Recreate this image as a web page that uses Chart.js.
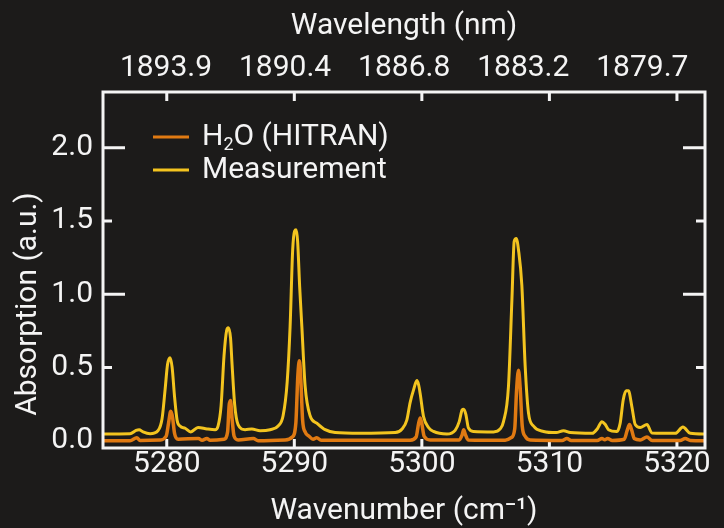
<!DOCTYPE html>
<html>
<head>
<meta charset="utf-8">
<script src="https://cdn.jsdelivr.net/npm/chart.js@4.4.0/dist/chart.umd.min.js"></script>
<style>
  html, body { margin: 0; padding: 0; background: #1c1b1a; }
  #wrap { width: 724px; height: 528px; position: relative; }
</style>
</head>
<body>
<div id="wrap"><canvas id="spectrum"></canvas></div>
<script>
// ---- data ----
const wavenumberTicks = [5280, 5290, 5300, 5310, 5320];
const absorptionTicks = [0.0, 0.5, 1.0, 1.5, 2.0];

// Measurement (yellow)
const measWavenumber = [
  5274.93, 5277.12, 5277.59, 5277.83, 5278.14, 5278.69, 5279.32, 5279.63, 5279.87, 5280.06,
  5280.26, 5280.42, 5280.61, 5280.81, 5281.04, 5281.44, 5281.88, 5282.45, 5283.16, 5283.79,
  5284.02, 5284.26, 5284.49, 5284.69, 5284.83, 5285.00, 5285.12, 5285.32, 5285.59, 5286.14,
  5286.67, 5287.32, 5288.10, 5288.73, 5289.12, 5289.44, 5289.67, 5289.87, 5290.02, 5290.14,
  5290.26, 5290.42, 5290.59, 5290.85, 5291.24, 5291.76, 5292.42, 5293.20, 5295.16, 5297.91,
  5298.45, 5298.82, 5299.08, 5299.36, 5299.61, 5299.75, 5299.87, 5300.13, 5300.52, 5300.91,
  5301.96, 5302.61, 5302.93, 5303.16, 5303.28, 5303.45, 5303.65, 5304.05, 5305.62, 5306.14,
  5306.40, 5306.79, 5307.06, 5307.24, 5307.40, 5307.58, 5307.84, 5308.10, 5308.36, 5308.75,
  5309.54, 5310.53, 5311.11, 5311.63, 5313.36, 5313.75, 5314.12, 5314.38, 5314.64, 5315.29,
  5315.55, 5315.79, 5316.02, 5316.20, 5316.47, 5316.73, 5317.12, 5317.65, 5318.04, 5319.87,
  5320.47, 5321.05, 5322.23
];
const measAbsorption = [
  0.045, 0.047, 0.070, 0.075, 0.060, 0.048, 0.070, 0.150, 0.350, 0.520,
  0.566, 0.500, 0.300, 0.140, 0.100, 0.085, 0.060, 0.090, 0.080, 0.075,
  0.100, 0.240, 0.580, 0.750, 0.770, 0.700, 0.520, 0.250, 0.110, 0.075,
  0.080, 0.068, 0.075, 0.100, 0.170, 0.400, 0.780, 1.300, 1.430, 1.440,
  1.360, 1.050, 0.780, 0.370, 0.170, 0.120, 0.075, 0.055, 0.050, 0.055,
  0.080, 0.140, 0.260, 0.350, 0.410, 0.380, 0.320, 0.165, 0.090, 0.063,
  0.045, 0.070, 0.130, 0.210, 0.215, 0.180, 0.087, 0.063, 0.060, 0.080,
  0.130, 0.370, 0.960, 1.360, 1.380, 1.300, 1.060, 0.510, 0.190, 0.100,
  0.063, 0.055, 0.068, 0.055, 0.050, 0.080, 0.130, 0.110, 0.075, 0.063,
  0.120, 0.280, 0.340, 0.340, 0.230, 0.110, 0.090, 0.110, 0.052, 0.050,
  0.093, 0.050, 0.045
];

// H2O (HITRAN) (orange)
const hitranWavenumber = [
  5274.93, 5277.12, 5277.65, 5277.91, 5279.48, 5279.95, 5280.14, 5280.31, 5280.45, 5280.61,
  5280.89, 5282.48, 5282.77, 5283.14, 5283.40, 5284.49, 5284.77, 5284.89, 5285.00, 5285.12,
  5285.28, 5285.59, 5286.79, 5287.16, 5289.28, 5289.84, 5290.12, 5290.28, 5290.40, 5290.51,
  5290.65, 5290.85, 5291.16, 5291.47, 5291.76, 5292.10, 5299.08, 5299.55, 5299.75, 5299.87,
  5299.99, 5300.18, 5300.65, 5302.93, 5303.16, 5303.28, 5303.40, 5303.63, 5306.53, 5307.00,
  5307.28, 5307.43, 5307.58, 5307.71, 5307.87, 5308.10, 5308.49, 5311.00, 5311.37, 5311.71,
  5313.75, 5314.12, 5314.34, 5314.56, 5314.93, 5315.87, 5316.10, 5316.28, 5316.46, 5316.65,
  5317.12, 5317.65, 5318.06, 5320.25, 5320.65, 5321.05, 5322.23
];
const hitranAbsorption = [
  0.000, 0.000, 0.020, 0.002, 0.005, 0.030, 0.120, 0.200, 0.160, 0.050,
  0.010, 0.015, 0.003, 0.015, 0.003, 0.010, 0.060, 0.240, 0.275, 0.150,
  0.030, 0.005, 0.015, 0.000, 0.005, 0.025, 0.120, 0.450, 0.545, 0.420,
  0.140, 0.060, 0.030, 0.010, 0.020, 0.003, 0.003, 0.025, 0.120, 0.155,
  0.120, 0.030, 0.005, 0.005, 0.040, 0.075, 0.045, 0.005, 0.003, 0.020,
  0.080, 0.350, 0.480, 0.360, 0.100, 0.030, 0.005, 0.002, 0.015, 0.002,
  0.002, 0.015, 0.006, 0.015, 0.002, 0.010, 0.070, 0.110, 0.070, 0.015,
  0.005, 0.025, 0.002, 0.002, 0.015, 0.002, 0.000
];

const seriesNames = ['H\u2082O (HITRAN)', 'Measurement'];
const seriesColors = ['#e07a12', '#f3c41f'];

// ---- style ----
const FG = '#f4f4f4';
const FONT = 'Roboto, "Noto Sans", sans-serif';
const FONT_SIZE = 30;

function toPoints(xs, ys) {
  return xs.map((x, i) => ({ x: x, y: ys[i] }));
}

// inward ticks on all four sides + frame
const frameTicks = {
  id: 'frameTicks',
  beforeDatasetsDraw(chart) {
    const { ctx, chartArea: a, scales } = chart;
    ctx.save();
    ctx.strokeStyle = FG;
    ctx.lineWidth = 3;
    ctx.beginPath();
    wavenumberTicks.forEach(v => {
      const x = scales.x.getPixelForValue(v);
      ctx.moveTo(x, a.bottom); ctx.lineTo(x, a.bottom - 9);
      ctx.moveTo(x, a.top); ctx.lineTo(x, a.top + 9);
    });
    absorptionTicks.forEach(v => {
      if (v === 0) return;
      const y = scales.y.getPixelForValue(v);
      const len = Number.isInteger(v) ? 22 : 9;
      ctx.moveTo(a.left, y); ctx.lineTo(a.left + len, y);
      ctx.moveTo(a.right, y); ctx.lineTo(a.right - len, y);
    });
    ctx.stroke();
    ctx.restore();
  },
  afterDatasetsDraw(chart) {
    const { ctx, chartArea: a } = chart;
    ctx.save();
    ctx.strokeStyle = FG;
    ctx.lineWidth = 3;
    ctx.strokeRect(a.left, a.top, a.right - a.left, a.bottom - a.top);
    ctx.restore();
  }
};

// legend inside the plot + rotated y title
const labelsPlugin = {
  id: 'labelsPlugin',
  afterDraw(chart) {
    const { ctx, chartArea: a } = chart;
    ctx.save();
    // legend
    const x0 = a.left + 50, lineLen = 36, rowGap = 33;
    let y = a.top + 45;
    ctx.textBaseline = 'middle';
    ctx.fillStyle = FG;
    seriesNames.forEach((name, i) => {
      ctx.strokeStyle = seriesColors[i];
      ctx.lineWidth = 3;
      ctx.beginPath();
      ctx.moveTo(x0, y); ctx.lineTo(x0 + lineLen, y);
      ctx.stroke();
      let tx = x0 + lineLen + 13;
      ctx.textAlign = 'left';
      if (i === 0) {
        // H, subscript 2, O (HITRAN)
        ctx.font = FONT_SIZE + 'px ' + FONT;
        ctx.fillText('H', tx, y);
        tx += ctx.measureText('H').width;
        ctx.font = '18px ' + FONT;
        ctx.fillText('2', tx, y + 8);
        tx += ctx.measureText('2').width;
        ctx.font = FONT_SIZE + 'px ' + FONT;
        ctx.fillText('O (HITRAN)', tx, y);
      } else {
        ctx.font = FONT_SIZE + 'px ' + FONT;
        ctx.fillText(name, tx, y);
      }
      y += rowGap;
    });
    // y axis title
    ctx.translate(28, 304);
    ctx.rotate(-Math.PI / 2);
    ctx.textAlign = 'center';
    ctx.font = FONT_SIZE + 'px ' + FONT;
    ctx.fillText('Absorption (a.u.)', 0, 0);
    ctx.restore();
  }
};

const tickFont = { family: FONT, size: FONT_SIZE, lineHeight: 1 };
const titleFont = { family: FONT, size: FONT_SIZE, lineHeight: 0.8 };

function noSidePadding(s) {
  s.paddingLeft = 0;
  s.paddingRight = 0;
}

new Chart(document.getElementById('spectrum'), {
  type: 'line',
  data: {
    datasets: [
      {
        label: seriesNames[1],
        data: toPoints(measWavenumber, measAbsorption),
        borderColor: seriesColors[1],
        borderWidth: 3,
        pointRadius: 0,
        cubicInterpolationMode: 'monotone'
      },
      {
        label: seriesNames[0],
        data: toPoints(hitranWavenumber, hitranAbsorption),
        borderColor: seriesColors[0],
        borderWidth: 3.5,
        pointRadius: 0,
        cubicInterpolationMode: 'monotone'
      }
    ]
  },
  options: {
    responsive: true,
    maintainAspectRatio: false,
    animation: false,
    layout: { padding: 0 },
    plugins: {
      legend: { display: false },
      tooltip: { enabled: false }
    },
    scales: {
      x: {
        type: 'linear',
        position: 'bottom',
        min: 5275,
        max: 5322.2,
        afterBuildTicks: s => { s.ticks = wavenumberTicks.map(v => ({ value: v })); },
        afterFit: s => { s.height = 80; noSidePadding(s); },
        grid: { display: false, drawTicks: false },
        border: { display: false },
        ticks: {
          color: FG, font: tickFont, padding: 1,
          autoSkip: false, maxRotation: 0,
          callback: v => String(v)
        },
        title: {
          display: true,
          text: 'Wavenumber (cm\u207B\u00B9)',
          color: FG,
          font: titleFont,
          padding: { top: 0, bottom: 5 }
        }
      },
      // twin wavelength axis keeps its own (wider) range, as in the original
      x2: {
        type: 'linear',
        position: 'top',
        min: 5274.71,
        max: 5325.26,
        afterBuildTicks: s => { s.ticks = wavenumberTicks.map(v => ({ value: v })); },
        afterFit: s => { s.height = 92; noSidePadding(s); },
        grid: { display: false, drawTicks: false },
        border: { display: false },
        ticks: {
          color: FG, font: tickFont, padding: 9,
          autoSkip: false, maxRotation: 0,
          callback: v => (1e7 / v).toFixed(1)
        },
        title: {
          display: true,
          text: 'Wavelength (nm)',
          color: FG,
          font: titleFont,
          padding: { top: 14, bottom: 0 }
        }
      },
      y: {
        position: 'left',
        min: -0.05,
        max: 2.38,
        afterBuildTicks: s => { s.ticks = absorptionTicks.map(v => ({ value: v })); },
        afterFit: s => { s.width = 103; },
        grid: { display: false, drawTicks: false },
        border: { display: false },
        ticks: {
          color: FG, font: tickFont, padding: 10,
          callback: v => v.toFixed(1)
        }
      },
      y2: {
        position: 'right',
        min: -0.05,
        max: 2.38,
        afterFit: s => { s.width = 19; },
        grid: { display: false, drawTicks: false },
        border: { display: false },
        ticks: { display: false }
      }
    }
  },
  plugins: [frameTicks, labelsPlugin]
});
</script>
</body>
</html>
